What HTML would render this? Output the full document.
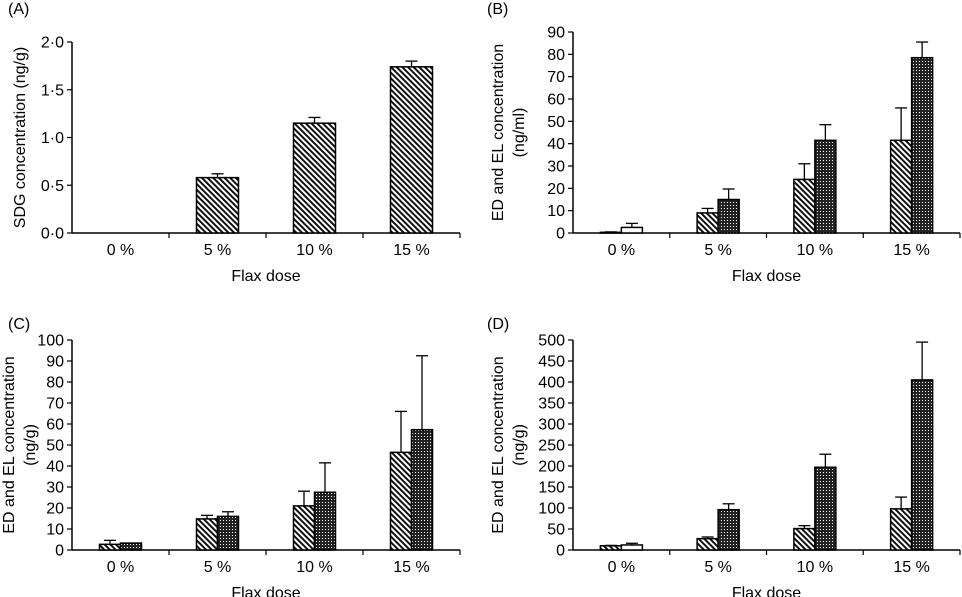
<!DOCTYPE html>
<html><head><meta charset="utf-8"><style>
body{margin:0;background:#fff}
svg{display:block;font-family:"Liberation Sans",sans-serif}
</style></head><body>
<svg id="fig" width="962" height="597" viewBox="0 0 962 597">
<defs>
<pattern id="hatch" width="4" height="4" patternUnits="userSpaceOnUse" patternTransform="rotate(-45)">
<rect width="4" height="4" fill="#fff"/><rect width="2" height="4" fill="#111"/></pattern>
<pattern id="dots" width="3" height="3" patternUnits="userSpaceOnUse">
<rect width="3" height="3" fill="#222"/><rect x="1" y="1" width="1" height="1" fill="#fff"/></pattern>
</defs>
</svg>
<script>
const categories=["0%","5%","10%","15%"];
const aVals=[0,0.58,1.15,1.74];
const aErr=[0,0.62,1.21,1.80];
const bED=[0.3,9,24,41.5];
const bEDerr=[0.5,11,31,56];
const bEL=[2.5,15,41.5,78.5];
const bELerr=[4.3,19.7,48.5,85.5];
const cED=[2.7,14.8,21,46.5];
const cEDerr=[4.6,16.5,28,66];
const cEL=[3.3,16,27.5,57.3];
const cELerr=[3.3,18.2,41.5,92.5];
const dED=[10,27,51,98];
const dEDerr=[11,31,58,126];
const dEL=[12,96,197,405];
const dELerr=[16,110,228,495];
const aTicks=["0·0","0·5","1·0","1·5","2·0"];
const bTicks=["0","10","20","30","40","50","60","70","80","90"];
const cTicks=["0","10","20","30","40","50","60","70","80","90","100"];
const dTicks=["0","50","100","150","200","250","300","350","400","450","500"];

const svg=document.getElementById('fig');
const NS='http://www.w3.org/2000/svg';
function mk(tag,attrs,parent,text){const e=document.createElementNS(NS,tag);for(const k in attrs)e.setAttribute(k,attrs[k]);if(text!==undefined)e.textContent=text;(parent||svg).appendChild(e);return e;}

function panel(o){
  const g=mk('g',{});
  
  
  const x0=o.x0,x1=o.x1,yTop=o.yTop,yBot=o.yBot,max=o.max;
  const cw=(x1-x0)/categories.length;
  const xs=i=>x0+cw*i+cw/2;
  const ys=v=>yBot-(v/max)*(yBot-yTop);
  const lab=mk('text',{x:o.lx,y:o.ly,'font-size':16},g,'('+o.id+')');
  
  
  const ya=mk('line',{x1:x0,y1:yTop,x2:x0,y2:yBot,stroke:'#000','stroke-width':1.5},g);
  
  
  const xa=mk('line',{x1:x0,y1:yBot,x2:x1,y2:yBot,stroke:'#000','stroke-width':1.5},g);
  
  
  const n=o.ticks.length-1;
  o.ticks.forEach((t,i)=>{
    const v=max*i/n,y=ys(v);
    mk('line',{x1:x0-5,y1:y,x2:x0,y2:y,stroke:'#000','stroke-width':1.2},g);
    const tl=mk('text',{x:x0-8,y:y+5.5,'font-size':16,'text-anchor':'end'},g,t);
    
    
  });
  categories.forEach((c,i)=>{
    const bx=x0+cw*(i+1);
    mk('line',{x1:bx,y1:yBot,x2:bx,y2:yBot+5,stroke:'#000','stroke-width':1.2},g);
    const tl=mk('text',{x:xs(i),y:yBot+22,'font-size':16,'text-anchor':'middle'},g,c.replace('%',' %'));
    
    
  });
  const xt=mk('text',{x:(x0+x1)/2,y:yBot+48,'font-size':16,'text-anchor':'middle'},g,'Flax dose');
  
  
  const yl=mk('text',{transform:`translate(${o.ylx},${(yTop+yBot)/2}) rotate(-90)`,'font-size':16,'text-anchor':'middle'},g);
  
  
  o.ylab.forEach((s,k)=>{mk('tspan',{x:0,dy:k?21:0},yl,s);});
  function bar(x,w,v,e,fill,name){
    if(v<=0)return;
    const r=mk('rect',{x:x,y:ys(v),width:w,height:yBot-ys(v),fill:fill,stroke:'#000','stroke-width':1.5},g);
    
    
    if(e>v){
      const cx=x+w/2;
      const el=mk('line',{x1:cx,y1:ys(v),x2:cx,y2:ys(e),stroke:'#000','stroke-width':1.3},g);
      
      
      mk('line',{x1:cx-6,y1:ys(e),x2:cx+6,y2:ys(e),stroke:'#000','stroke-width':1.3},g);
    }
  }
  categories.forEach((c,i)=>{
    if(o.single){bar(xs(i)-21,42,o.s1[i],o.e1[i],'url(#hatch)','bar-sdg-'+i);}
    else{
      bar(xs(i)-21,21,o.s1[i],o.e1[i],'url(#hatch)','bar-ed-'+i);
      const f=(i===0&&o.whiteFirst)?'#fff':'url(#dots)';
      bar(xs(i),21,o.s2[i],o.e2[i],f,'bar-el-'+i);
    }
  });
}
panel({id:'A',x0:72,x1:460,yTop:42,yBot:233,max:2,ticks:aTicks,single:true,s1:aVals,e1:aErr,lx:8,ly:14,ylx:25,ylab:['SDG concentration (ng/g)']});
panel({id:'B',x0:573,x1:960,yTop:32,yBot:233,max:90,ticks:bTicks,s1:bED,e1:bEDerr,s2:bEL,e2:bELerr,whiteFirst:true,lx:487,ly:14,ylx:503,ylab:['ED and EL concentration','(ng/ml)']});
panel({id:'C',x0:72,x1:460,yTop:340,yBot:550,max:100,ticks:cTicks,s1:cED,e1:cEDerr,s2:cEL,e2:cELerr,lx:8,ly:329,ylx:14,ylab:['ED and EL concentration','(ng/g)']});
panel({id:'D',x0:573,x1:960,yTop:340,yBot:550,max:500,ticks:dTicks,s1:dED,e1:dEDerr,s2:dEL,e2:dELerr,whiteFirst:true,lx:487,ly:329,ylx:503,ylab:['ED and EL concentration','(ng/g)']});
</script>
</body></html>
